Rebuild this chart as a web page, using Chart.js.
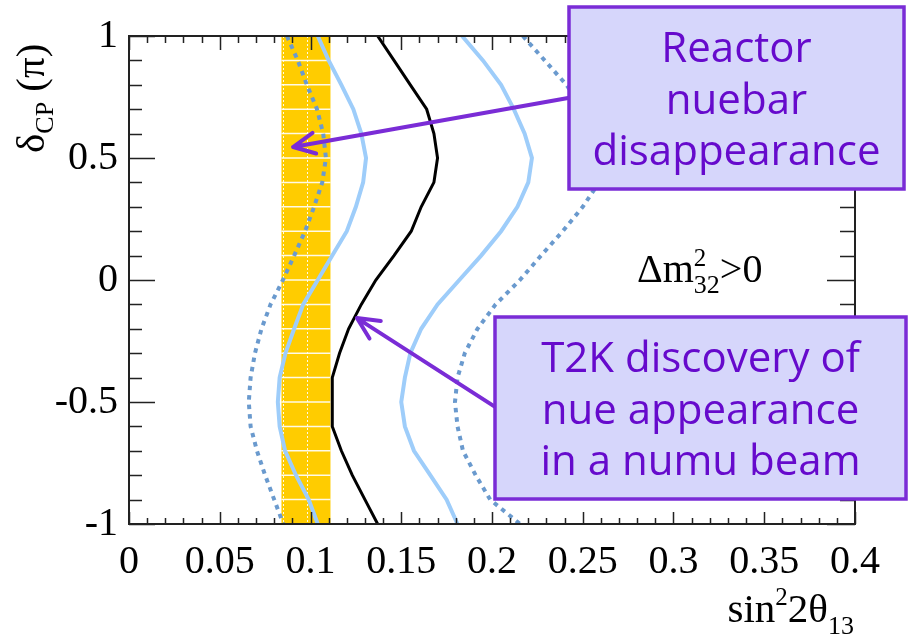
<!DOCTYPE html>
<html>
<head>
<meta charset="utf-8">
<script src="https://cdn.jsdelivr.net/npm/chart.js@4.4.1/dist/chart.umd.min.js"></script>
<style>
  html, body { margin: 0; padding: 0; background: #fff; }
</style>
</head>
<body>
<canvas id="chart" width="912" height="639"></canvas>
<script>
'use strict'

// delta_CP grid (units of pi) shared by every contour
const deltaCP = [1, 0.9, 0.8, 0.7, 0.6, 0.5, 0.4, 0.3, 0.2, 0.1, 0, -0.1, -0.2, -0.3, -0.4, -0.5, -0.6, -0.7, -0.8, -0.9, -1]

// sin^2 2theta13 for each delta_CP value
const bestFit = [0.137, 0.146, 0.155, 0.164, 0.168, 0.170, 0.168, 0.161, 0.1555, 0.146, 0.136, 0.128, 0.121, 0.116, 0.112, 0.112, 0.112, 0.117, 0.123, 0.130, 0.137]
const cl68Low = [0.104, 0.110, 0.117, 0.1236, 0.128, 0.1306, 0.129, 0.125, 0.120, 0.112, 0.104, 0.096, 0.091, 0.0862, 0.083, 0.082, 0.083, 0.086, 0.092, 0.099, 0.104]
const cl68High = [0.1835, 0.195, 0.205, 0.212, 0.218, 0.222, 0.220, 0.214, 0.205, 0.194, 0.182, 0.170, 0.161, 0.155, 0.152, 0.150, 0.152, 0.157, 0.166, 0.175, 0.181]
const cl90Low = [0.087, 0.093, 0.098, 0.1036, 0.107, 0.1085, 0.1065, 0.102, 0.097, 0.091, 0.0848, 0.078, 0.073, 0.0694, 0.067, 0.066, 0.067, 0.0705, 0.075, 0.080, 0.085]
const cl90High = [0.217, 0.229, 0.241, 0.250, 0.257, 0.261, 0.259, 0.250, 0.239, 0.227, 0.2154, 0.202, 0.192, 0.185, 0.181, 0.1796, 0.181, 0.184, 0.191, 0.199, 0.2154]

// reactor allowed band in sin^2 2theta13
const reactorBand = [0.084, 0.111]
const reactorHatchX = [0.085, 0.098]

const xTickLabels = ['0', '0.05', '0.1', '0.15', '0.2', '0.25', '0.3', '0.35', '0.4']
const yTickLabels = ['-1', '-0.5', '0', '0.5', '1']

const annotations = [
  { lines: ['Reactor', 'nuebar', 'disappearance'], box: [569, 7, 335, 182], baseline: 62, arrowFrom: [0.2419, 0.746], arrowTo: [0.0904, 0.545] },
  { lines: ['T2K discovery of', 'nue appearance', 'in a numu beam'], box: [495, 317, 411, 182], baseline: 372, arrowFrom: [0.2017, -0.52], arrowTo: [0.1256, -0.156] }
]

const SERIF = '"Liberation Serif", "Times New Roman", serif'
const PURPLE = 'rgb(122, 44, 214)'

const toPoints = (xs) => xs.map((v, i) => ({ x: v, y: deltaCP[i] }))

const xLabel = (v) => {
  const k = Math.round(v * 100)
  return k % 5 === 0 ? xTickLabels[k / 5] : ''
}
const yLabel = (v) => {
  const k = Math.round(v * 10)
  return k % 5 === 0 ? yTickLabels[(k + 10) / 5] : ''
}

const reactorBandPlugin = {
  id: 'reactorBand',
  beforeDatasetsDraw (chart) {
    const { ctx, chartArea: { top, bottom }, scales: { x, y } } = chart
    const x0 = x.getPixelForValue(reactorBand[0])
    const x1 = x.getPixelForValue(reactorBand[1])
    ctx.save()
    ctx.fillStyle = '#ffcc00'
    ctx.fillRect(x0, top, x1 - x0, bottom - top)
    ctx.strokeStyle = 'rgba(255,255,255,0.9)'
    ctx.lineWidth = 1.5
    ctx.beginPath()
    y.ticks.forEach((t) => {
      if (Math.abs(t.value) > 0.95) { return }
      const py = y.getPixelForValue(t.value)
      ctx.moveTo(x0, py)
      ctx.lineTo(x1, py)
    })
    ctx.stroke()
    ctx.lineWidth = 1
    ctx.setLineDash([2, 2])
    ctx.beginPath()
    reactorHatchX.forEach((v) => {
      const px = Math.round(x.getPixelForValue(v)) + 0.5
      ctx.moveTo(px, top)
      ctx.lineTo(px, bottom)
    })
    ctx.stroke()
    ctx.restore()
  }
}

// ROOT style frame with ticks pointing inwards on all four sides
const frameTicksPlugin = {
  id: 'frameTicks',
  afterDatasetsDraw (chart) {
    const { ctx, chartArea: { left, right, top, bottom }, scales: { x, y } } = chart
    ctx.save()
    ctx.strokeStyle = '#222'
    ctx.lineWidth = 2
    ctx.strokeRect(left, top, right - left, bottom - top)
    ctx.lineWidth = 1.5
    ctx.beginPath()
    x.ticks.forEach((t) => {
      const px = Math.round(x.getPixelForValue(t.value)) + 0.5
      const major = xLabel(t.value) !== ''
      ctx.moveTo(px, bottom)
      ctx.lineTo(px, bottom - (major ? 12 : 6))
      ctx.moveTo(px, top)
      ctx.lineTo(px, top + (major ? 14 : 7))
    })
    y.ticks.forEach((t) => {
      const py = Math.round(y.getPixelForValue(t.value)) + 0.5
      const major = yLabel(t.value) !== ''
      ctx.moveTo(left, py)
      ctx.lineTo(left + (major ? 26 : 13), py)
      ctx.moveTo(right, py)
      ctx.lineTo(right - (major ? 28 : 15), py)
    })
    ctx.stroke()
    ctx.restore()
  }
}

// draws a run of [text, sizePx, baselineShift, stacked] pieces
function drawRun (ctx, pieces, x, y) {
  let cx = x
  pieces.forEach(([text, size, shift, stack]) => {
    ctx.font = `${size}px ${SERIF}`
    ctx.fillText(text, cx, y + shift)
    if (!stack) { cx += ctx.measureText(text).width }
  })
  return cx
}

function runWidth (ctx, pieces) {
  let w = 0
  pieces.forEach(([text, size, , stack]) => {
    ctx.font = `${size}px ${SERIF}`
    if (!stack) { w += ctx.measureText(text).width }
  })
  return w
}

const textsPlugin = {
  id: 'texts',
  afterDraw (chart) {
    const { ctx, scales: { x, y } } = chart
    ctx.save()
    ctx.fillStyle = '#000'
    ctx.textAlign = 'left'
    ctx.textBaseline = 'alphabetic'

    // x axis title, right aligned at the frame edge
    const xTitle = [['sin', 41, 0], ['2', 25, -17], ['2\u03B8', 41, 0], ['13', 26, 12]]
    drawRun(ctx, xTitle, 854 - runWidth(ctx, xTitle), 622)

    // y axis title, rotated
    ctx.save()
    ctx.translate(44, 153)
    ctx.rotate(-Math.PI / 2)
    drawRun(ctx, [['\u03B4', 41, 0], ['CP', 26, 9], [' (\u03C0)', 41, 0]], 0, 0)
    ctx.restore()

    // mass ordering label
    drawRun(ctx, [['\u0394m', 40, 0], ['2', 25, -16, true], ['32', 26, 11], ['>0', 40, 0]], 637, 282)

    // annotation arrows and boxes
    annotations.forEach((a) => {
      const fx = x.getPixelForValue(a.arrowFrom[0])
      const fy = y.getPixelForValue(a.arrowFrom[1])
      const tx = x.getPixelForValue(a.arrowTo[0])
      const ty = y.getPixelForValue(a.arrowTo[1])
      const ang = Math.atan2(fy - ty, fx - tx)
      ctx.strokeStyle = PURPLE
      ctx.lineWidth = 4
      ctx.lineCap = 'round'
      ctx.lineJoin = 'round'
      ctx.beginPath()
      ctx.moveTo(fx, fy)
      ctx.lineTo(tx, ty)
      const head = 24
      const spread = 0.45
      ctx.moveTo(tx + head * Math.cos(ang - spread), ty + head * Math.sin(ang - spread))
      ctx.lineTo(tx, ty)
      ctx.lineTo(tx + head * Math.cos(ang + spread), ty + head * Math.sin(ang + spread))
      ctx.stroke()
    })
    annotations.forEach((a) => {
      const [bx, by, bw, bh] = a.box
      ctx.fillStyle = 'rgb(214, 214, 251)'
      ctx.fillRect(bx, by, bw, bh)
      ctx.strokeStyle = PURPLE
      ctx.lineWidth = 3.5
      ctx.lineJoin = 'miter'
      ctx.strokeRect(bx, by, bw, bh)
      ctx.fillStyle = 'rgb(102, 10, 204)'
      ctx.font = '42px "Open Sans", "Noto Sans", sans-serif'
      ctx.textAlign = 'center'
      a.lines.forEach((line, i) => {
        ctx.fillText(line, bx + bw / 2, a.baseline + i * 51.5)
      })
      ctx.textAlign = 'left'
    })
    ctx.restore()
  }
}

const curve = (label, xs, color, width, dash) => ({
  label,
  data: toPoints(xs),
  showLine: true,
  borderColor: color,
  backgroundColor: color,
  borderWidth: width,
  borderDash: dash || [],
  borderCapStyle: 'butt',
  pointRadius: 0,
  tension: 0
})

new Chart(document.getElementById('chart').getContext('2d'), {
  type: 'scatter',
  data: {
    datasets: [
      curve('90% CL low', cl90Low, 'rgb(106, 154, 206)', 4, [4.5, 5]),
      curve('90% CL high', cl90High, 'rgb(106, 154, 206)', 4, [4.5, 5]),
      curve('68% CL low', cl68Low, 'rgb(158, 205, 250)', 4),
      curve('68% CL high', cl68High, 'rgb(158, 205, 250)', 4),
      curve('best fit', bestFit, '#000', 3)
    ]
  },
  plugins: [reactorBandPlugin, frameTicksPlugin, textsPlugin],
  options: {
    responsive: false,
    animation: false,
    layout: { padding: { top: 36, right: 57, left: 0, bottom: 0 } },
    plugins: {
      legend: { display: false },
      tooltip: { enabled: false }
    },
    scales: {
      x: {
        type: 'linear',
        min: 0,
        max: 0.4,
        afterFit: (s) => { s.height = 115 },
        grid: { display: false },
        border: { display: false },
        ticks: {
          stepSize: 0.01,
          autoSkip: false,
          maxRotation: 0,
          padding: 6,
          color: '#000',
          font: { family: SERIF, size: 40 },
          callback: xLabel
        }
      },
      y: {
        type: 'linear',
        min: -1,
        max: 1,
        afterFit: (s) => { s.width = 129 },
        grid: { display: false },
        border: { display: false },
        ticks: {
          stepSize: 0.1,
          autoSkip: false,
          padding: 3,
          color: '#000',
          font: { family: SERIF, size: 40 },
          callback: yLabel
        }
      }
    }
  }
})
</script>
</body>
</html>
